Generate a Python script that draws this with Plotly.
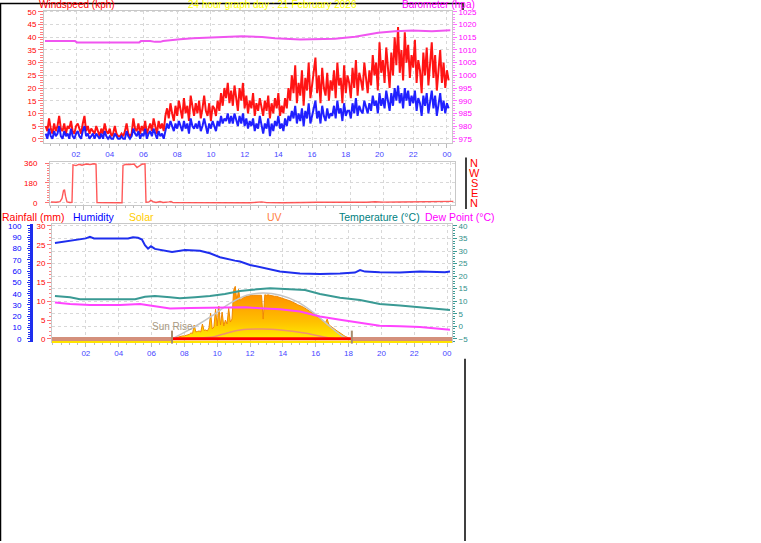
import plotly.graph_objects as go

W, H = 761, 543

# ---------------- data ----------------
hour_tickvals = [2, 4, 6, 8, 10, 12, 14, 16, 18, 20, 22, 24]
hour_ticktext = ["02", "04", "06", "08", "10", "12", "14", "16", "18", "20", "22", "00"]

# wind samples every 0.1 h starting at 0.2 h
wind_start_h = 0.2
wind_step_h = 0.1
wind_gust_kph = [
    5, 3, 8, 4, 2, 6, 3, 5, 9, 4,
    3, 6, 2, 5, 4, 7, 3, 2, 5, 6,
    4, 2, 6, 9, 3, 5, 2, 4, 3, 2,
    5, 3, 1, 4, 2, 6, 3, 2, 4, 1,
    2, 5, 2, 1, 1, 2, 1, 3, 6, 2,
    1, 2, 8, 4, 3, 6, 2, 5, 3, 7,
    2, 4, 6, 3, 8, 5, 2, 7, 4, 6,
    3, 9, 12, 8, 14, 10, 7, 13, 9, 15,
    11, 8, 16, 10, 13, 7, 17, 12, 9, 14,
    10, 15, 8, 12, 17, 11, 9, 14, 7, 13,
    12, 9, 15, 11, 18, 13, 20, 16, 22, 14,
    19, 13, 21, 16, 11, 20, 15, 22, 12, 17,
    10, 15, 12, 18, 9, 14, 11, 16, 13, 9,
    15, 11, 17, 8, 14, 10, 16, 12, 18, 9,
    13, 10, 16, 12, 20, 15, 25, 18, 29, 14,
    22, 17, 27, 13, 24, 19, 30, 16, 21, 26,
    32, 18, 25, 14, 28, 20, 17, 26, 15, 23,
    19, 27, 16, 30, 21, 24, 14, 29, 18, 25,
    22, 16, 28, 20, 31, 17, 26, 23, 19, 30,
    24, 18, 27, 21, 33, 25, 30, 19, 38, 26,
    31, 22, 36, 27, 20, 34, 25, 40, 29, 44,
    26, 35, 23, 42, 30, 37, 24, 33, 28, 39,
    22, 31, 27, 18, 34, 25, 36, 21, 29, 38,
    24, 33, 19, 28, 35, 22, 30, 20, 27, 23,
]
wind_avg_kph = [
    2, 0, 4, 1, 0, 3, 1, 2, 5, 1,
    0, 3, 1, 2, 0, 4, 1, 0, 2, 3,
    1, 0, 3, 5, 1, 2, 0, 1, 2, 0,
    2, 1, 0, 2, 0, 3, 1, 0, 1, 0,
    0, 2, 1, 0, 0, 1, 0, 0, 3, 1,
    0, 1, 4, 2, 1, 3, 0, 2, 1, 4,
    0, 2, 3, 1, 4, 2, 0, 3, 1, 2,
    0, 3, 6, 4, 7, 5, 3, 6, 4, 7,
    5, 3, 7, 4, 6, 2, 8, 5, 4, 6,
    4, 7, 3, 5, 8, 5, 2, 6, 4, 7,
    5, 3, 7, 5, 9, 6, 8, 7, 10, 6,
    9, 6, 10, 7, 5, 9, 6, 10, 5, 8,
    4, 7, 5, 8, 3, 6, 4, 9, 5, 2,
    6, 4, 8, 1, 6, 3, 7, 5, 9, 4,
    6, 3, 8, 5, 9, 7, 11, 8, 13, 6,
    10, 7, 12, 5, 11, 8, 14, 6, 9, 12,
    15, 8, 11, 6, 13, 9, 7, 12, 8, 10,
    9, 13, 8, 15, 10, 12, 7, 14, 9, 11,
    11, 8, 14, 10, 16, 9, 13, 11, 10, 15,
    12, 10, 14, 11, 17, 13, 15, 10, 18, 13,
    16, 12, 19, 14, 11, 18, 13, 20, 15, 21,
    14, 18, 12, 20, 15, 19, 13, 17, 14, 19,
    11, 16, 14, 9, 17, 13, 18, 10, 15, 19,
    12, 17, 9, 14, 18, 11, 15, 10, 14, 12,
]

baro_t = [0.16, 1.94, 2.06, 5.75, 5.85, 6.4, 6.68, 7.0, 7.16, 7.58, 8.17, 8.94, 9.95,
          10.95, 11.84, 13.03, 13.8, 15.29, 17.36, 18.55, 19.32, 19.92, 20.92, 21.93, 23.11, 24.2]
baro_hpa = [1013.5, 1013.5, 1013.0, 1013.0, 1013.5, 1013.5, 1013.2, 1013.2, 1013.5, 1013.9,
            1014.2, 1014.6, 1014.8, 1015.2, 1015.4, 1015.1, 1014.6, 1014.1, 1014.4, 1015.2,
            1016.1, 1016.8, 1017.4, 1017.7, 1017.4, 1017.8]

dir_t = [0.06, 0.36, 0.6, 0.72, 0.81, 0.87, 0.93, 1.02, 1.2, 1.32, 1.38, 1.56, 1.74, 1.92,
         2.16, 2.4, 2.64, 2.76, 2.82, 3.3, 3.9, 4.32, 4.38, 4.56, 4.8, 5.04, 5.22, 5.34,
         5.52, 5.7, 5.76, 5.94, 6.06, 6.18, 6.36, 6.6, 6.78, 7.14, 7.26, 7.38, 8.0, 9.0,
         10.0, 11.0, 12.0, 12.7, 13.0, 14.0, 14.8, 15.2, 16.0, 17.0, 18.0, 19.0, 19.5,
         20.0, 21.0, 22.0, 23.0, 24.0, 24.2]
dir_deg = [8, 5, 10, 40, 110, 120, 60, 8, 3, 5, 345, 338, 350, 342,
           352, 348, 355, 352, 2, 0, 0, 0, 340, 350, 348, 352, 320, 335,
           350, 355, 5, 8, 22, 10, 3, 12, 3, 8, 12, 2, 2, 4,
           1, 3, 0, 8, 2, 1, 6, 3, 5, 4, 6, 5, 9,
           6, 8, 9, 10, 14, 13]

hum_t = [0.12, 0.6, 1.04, 1.64, 2.0, 2.25, 2.5, 2.86, 3.5, 4.08, 4.57, 4.87, 5.18, 5.42,
         5.6, 5.79, 5.97, 6.21, 6.82, 7.25, 8.04, 8.95, 9.56, 10.17, 11.08, 11.39, 12.0,
         12.91, 13.82, 15.04, 16.26, 17.48, 18.39, 18.7, 19.0, 19.9, 21.13, 22.35, 23.87, 24.18]
hum_pct = [85, 86, 87, 88.5, 89, 90.5, 89, 89, 88.8, 88.5, 89, 90, 89.5, 88,
           83, 80, 82, 79.7, 78, 77, 78.8, 78, 75.8, 72.3, 69.3, 68.5, 65.5,
           62.6, 59.6, 58, 57.5, 57.9, 58.7, 61, 59.6, 59, 58.7, 59.6, 59, 59.6]

temp_t = [0.12, 1.04, 1.64, 2.86, 4.08, 5.0, 5.6, 6.21, 7.13, 7.73, 8.65, 9.56, 10.47,
          11.39, 12.0, 13.22, 14.43, 15.35, 16.26, 17.48, 18.7, 19.9, 21.13, 22.35, 24.18]
temp_c = [12.1, 11.6, 10.8, 10.8, 11.0, 10.8, 11.8, 12.1, 11.6, 11.2, 11.6, 12.1, 12.9,
          14.1, 14.5, 15.2, 14.8, 14.5, 12.9, 11.4, 10.5, 8.9, 8.3, 7.6, 6.5]

dew_t = [0.12, 1.04, 2.25, 4.08, 5.3, 6.21, 7.13, 8.35, 10.17, 11.69, 12.6, 13.82, 15.04,
         16.26, 17.48, 18.7, 19.9, 21.13, 22.35, 24.18]
dew_c = [9.5, 8.9, 8.5, 8.5, 8.9, 8.1, 7.1, 7.3, 7.6, 7.6, 7.2, 6.8, 5.9,
         3.9, 2.6, 1.5, 0.2, 0.0, -0.3, -1.4]

# solar samples every 0.1 h starting at 7.2 h
solar_start_h = 7.2
solar_step_h = 0.1
solar_wm2 = [
    0, 5, 10, 15, 20, 20, 25, 30, 30, 35,
    40, 45, 60, 55, 140, 70, 75, 80, 70, 150,
    85, 90, 80, 110, 260, 100, 120, 300, 130, 330,
    140, 270, 130, 190, 150, 310, 170, 200, 490, 530,
    380, 500, 390, 410, 420, 425, 430, 435, 435, 440,
    440, 440, 445, 440, 445, 440, 200, 445, 440, 445,
    440, 435, 435, 430, 430, 425, 420, 415, 410, 405,
    400, 395, 390, 380, 370, 365, 355, 345, 340, 330,
    325, 315, 305, 295, 285, 270, 260, 250, 235, 225,
    215, 200, 190, 175, 165, 200, 145, 130, 115, 100,
    90, 80, 70, 55, 45, 35, 25, 15, 10, 5,
    0,
]
solar_max_t = [7.25, 8.0, 8.8, 9.75, 10.8, 11.8, 12.8, 13.85, 14.9, 15.9, 16.9, 17.7, 18.05]
solar_max_wm2 = [0, 65, 140, 240, 360, 440, 463, 440, 373, 260, 120, 20, 0]

uv_t = [7.3, 8.5, 9.75, 10.6, 11.4, 12.8, 13.85, 15.3, 16.5, 17.3]
uv_index = [0, 0.15, 0.4, 1.2, 1.8, 2.0, 1.8, 1.2, 0.4, 0]

rain_t = [0.0, 24.3]
rain_mm = [0, 0]

sunrise_h = 7.25
sunset_h = 18.2

compass_labels = ["N", "W", "S", "E", "N"]
compass_deg = [360, 270, 180, 90, 0]

# ---------------- helpers ----------------
FONT = "Liberation Sans, Arial, sans-serif"
FRAME = "#C8C8C8"
GRID = "#D8D8D8"
XLAB = "#4646FF"


def px(x):
    return x / W


def py(y):
    return 1 - y / H


wind_t = [wind_start_h + i * wind_step_h for i in range(len(wind_gust_kph))]
solar_t = [solar_start_h + i * solar_step_h for i in range(len(solar_wm2))]

fig = go.Figure()

# top panel
fig.add_trace(go.Scatter(x=wind_t, y=wind_gust_kph, mode="lines", xaxis="x", yaxis="y",
                         line=dict(color="rgba(255,0,0,0.92)", width=2)))
fig.add_trace(go.Scatter(x=wind_t, y=wind_avg_kph, mode="lines", xaxis="x", yaxis="y",
                         line=dict(color="rgba(20,20,255,0.95)", width=2)))
fig.add_trace(go.Scatter(x=baro_t, y=baro_hpa, mode="lines", xaxis="x", yaxis="y2",
                         line=dict(color="#F055F0", width=2)))
# middle panel
fig.add_trace(go.Scatter(x=dir_t, y=dir_deg, mode="lines", xaxis="x2", yaxis="y3",
                         line=dict(color="rgba(255,60,60,0.85)", width=1.4)))
# bottom panel
fig.add_trace(go.Scatter(x=solar_t, y=solar_wm2, mode="lines", xaxis="x3", yaxis="y4",
                         fill="tozeroy",
                         fillgradient=dict(type="vertical", start=0, stop=460,
                                           colorscale=[[0, "#FFF000"], [0.4, "#FFC000"], [1, "#FF9000"]]),
                         line=dict(color="#F08800", width=1)))
fig.add_trace(go.Scatter(x=solar_max_t, y=solar_max_wm2, mode="lines", xaxis="x3", yaxis="y4",
                         line=dict(color="#C4C4C4", width=1.5, shape="spline")))
fig.add_trace(go.Scatter(x=uv_t, y=uv_index, mode="lines", xaxis="x3", yaxis="y5",
                         line=dict(color="#F09070", width=1.5, shape="spline")))
fig.add_trace(go.Scatter(x=rain_t, y=rain_mm, mode="lines", xaxis="x3", yaxis="y6",
                         line=dict(color="#FF0000", width=3)))
fig.add_trace(go.Scatter(x=hum_t, y=hum_pct, mode="lines", xaxis="x3", yaxis="y7",
                         line=dict(color="#1E2EEE", width=2)))
fig.add_trace(go.Scatter(x=temp_t, y=temp_c, mode="lines", xaxis="x3", yaxis="y8",
                         line=dict(color="#3A9A94", width=2)))
fig.add_trace(go.Scatter(x=dew_t, y=dew_c, mode="lines", xaxis="x3", yaxis="y8",
                         line=dict(color="#FF44FF", width=2)))


def xaxis(domain, rng, anchor, labels=True):
    return dict(domain=domain, range=rng, anchor=anchor,
                tickmode="array", tickvals=hour_tickvals, ticktext=hour_ticktext,
                showticklabels=labels, tickfont=dict(size=8, color=XLAB, family=FONT),
                ticks="outside", ticklen=4, tickcolor="#BBBBBB",
                minor=dict(ticks="outside", dtick=0.5, tick0=0, ticklen=2, tickcolor="#BBBBBB"),
                showline=True, linecolor=FRAME, mirror=True, zeroline=False,
                showgrid=True, gridcolor=GRID, griddash="dot", fixedrange=True)


def yaxis(color, tickcolor, **kw):
    d = dict(tickfont=dict(size=8, color=color, family=FONT), ticks="outside", ticklen=4,
             tickcolor=tickcolor, zeroline=False, fixedrange=True, showgrid=False)
    d.update(kw)
    return d


TOP = [py(141), py(8)]
MID = [py(204), py(160)]
BOT = [py(342), py(223)]

fig.update_layout(
    width=W, height=H, margin=dict(l=0, r=0, t=0, b=0),
    paper_bgcolor="white", plot_bgcolor="white", showlegend=False,
    font=dict(family=FONT),
    xaxis=xaxis([px(44), px(452)], [0.1, 24.3], "y"),
    xaxis2=xaxis([px(50), px(455)], [0, 24.3], "y3", labels=False),
    xaxis3=xaxis([px(52), px(452)], [-0.06, 24.3], "y4"),
    yaxis=yaxis("#FF0000", "#FF7070", domain=TOP, range=[-1.56, 50.4], anchor="x",
                tickmode="linear", tick0=0, dtick=5, ticklen=5,
                minor=dict(ticks="outside", dtick=1, tick0=0, ticklen=3, tickcolor="#FF8080"),
                showline=True, linecolor=FRAME, mirror=True,
                showgrid=True, gridcolor=GRID, griddash="dot"),
    yaxis2=yaxis("#FF00FF", "#FF70FF", overlaying="y", side="right", anchor="x",
                 range=[973.44, 1025.4], tickmode="linear", tick0=975, dtick=5,
                 minor=dict(ticks="outside", dtick=1, tick0=975, ticklen=2, tickcolor="#FF80FF")),
    yaxis3=yaxis("#FF0000", "#FF7070", domain=MID, range=[-21, 375], anchor="x2",
                 tickmode="array", tickvals=[0, 180, 360], ticklabelstandoff=6,
                 minor=dict(ticks="outside", dtick=22.5, tick0=0, ticklen=2, tickcolor="#FF8080"),
                 showline=True, linecolor=FRAME, mirror=True,
                 showgrid=True, gridcolor=GRID, griddash="dot"),
    yaxis4=dict(domain=BOT, range=[-30, 1160], anchor="x3", visible=False, fixedrange=True),
    yaxis5=dict(overlaying="y4", range=[-0.6, 23.2], anchor="x3", visible=False, fixedrange=True),
    yaxis6=yaxis("#FF0000", "#FF7070", overlaying="y4", side="left", anchor="x3",
                 range=[-0.8, 30.53], tickmode="linear", tick0=0, dtick=5,
                 minor=dict(ticks="outside", dtick=1, tick0=0, ticklen=2, tickcolor="#FF8080"),
                 showline=True, linecolor=FRAME, mirror=True),
    yaxis7=yaxis("#0000FF", "#2233EE", overlaying="y4", side="left", anchor="free",
                 position=px(31), range=[-2.65, 101.8], tickmode="linear", tick0=0, dtick=10,
                 ticklen=3, ticklabelstandoff=4,
                 minor=dict(ticks="outside", dtick=2, tick0=0, ticklen=2, tickcolor="#2233EE"),
                 showline=True, linecolor="#1E2EEE", linewidth=3),
    yaxis8=yaxis("#2F8F8A", "#3A9A94", overlaying="y4", side="right", anchor="x3",
                 range=[-6.2, 40.8], tickmode="linear", tick0=0, dtick=5,
                 minor=dict(ticks="outside", dtick=1, tick0=0, ticklen=2, tickcolor="#3A9A94"),
                 showgrid=True, gridcolor=GRID, griddash="dot"),
)

shapes = [
    # outer black frame
    dict(type="line", xref="paper", yref="paper", x0=px(0.5), x1=px(0.5), y0=0, y1=1,
         line=dict(color="black", width=1.5)),
    dict(type="line", xref="paper", yref="paper", x0=0, x1=px(463), y0=py(0.5), y1=py(0.5),
         line=dict(color="black", width=1.5)),
    dict(type="line", xref="paper", yref="paper", x0=px(463), x1=px(463), y0=py(0), y1=py(7),
         line=dict(color="black", width=1.5)),
    dict(type="line", xref="paper", yref="paper", x0=px(466), x1=px(466), y0=py(156), y1=py(208),
         line=dict(color="black", width=1.5)),
    dict(type="line", xref="paper", yref="paper", x0=px(465), x1=px(465), y0=py(359), y1=0,
         line=dict(color="black", width=1.5)),
    # yellow base strip
    dict(type="rect", xref="x3 domain", yref="y4 domain", x0=0, x1=1, y0=-0.01, y1=0.01,
         fillcolor="#FFE400", line=dict(width=0)),
    # night bands
    dict(type="rect", xref="x3", yref="y4 domain", x0=-0.06, x1=sunrise_h, y0=0.008, y1=0.042,
         fillcolor="#D4907C", line=dict(width=0)),
    dict(type="rect", xref="x3", yref="y4 domain", x0=sunset_h, x1=24.3, y0=0.008, y1=0.042,
         fillcolor="#D4907C", line=dict(width=0)),
    # sunrise / sunset markers
    dict(type="line", xref="x3", yref="y4 domain", x0=sunrise_h, x1=sunrise_h, y0=-0.015, y1=0.095,
         line=dict(color="#A88C6C", width=2)),
    dict(type="line", xref="x3", yref="y4 domain", x0=sunset_h, x1=sunset_h, y0=-0.015, y1=0.095,
         line=dict(color="#A88C6C", width=2)),
]

annotations = [
    dict(text="Sun Rise", xref="x3", yref="y4 domain", x=sunrise_h, y=0.13, showarrow=False,
         font=dict(size=10, color="#A89880", family=FONT), xanchor="center", yanchor="middle"),
    dict(text="Windspeed (kph)", xref="paper", yref="paper", x=px(37), y=py(9.5), showarrow=False,
         font=dict(size=10, color="#FF0000", family=FONT), xanchor="left", yanchor="bottom"),
    dict(text="24 hour graph day : 21 February 2026", xref="paper", yref="paper", x=px(186), y=py(9.5),
         showarrow=False, font=dict(size=10, color="#FFFF00", family=FONT), xanchor="left", yanchor="bottom"),
    dict(text="Barometer (hpa)", xref="paper", yref="paper", x=px(400), y=py(9.5), showarrow=False,
         font=dict(size=10, color="#FF00FF", family=FONT), xanchor="left", yanchor="bottom"),
]
legend_row = [("Rainfall (mm)", 0, "#FF0000"), ("Humidity", 71, "#0000FF"), ("Solar", 127, "#FFCC00"),
              ("UV", 265, "#FF8040"), ("Temperature (°C)", 337, "#008080"), ("Dew Point (°C)", 423, "#FF00FF")]
for txt, xp, col in legend_row:
    annotations.append(dict(text=txt, xref="paper", yref="paper", x=px(xp), y=py(215.5), showarrow=False,
                            font=dict(size=10.5, color=col, family=FONT), xanchor="left", yanchor="middle"))
for lab, deg in zip(compass_labels, compass_deg):
    annotations.append(dict(text=lab, xref="paper", yref="y3", x=px(474), y=deg, showarrow=False,
                            font=dict(size=11, color="#FF0000", family=FONT), xanchor="center", yanchor="middle"))

fig.update_layout(shapes=shapes, annotations=annotations)

fig.write_html("out.html", config={"displayModeBar": False},
               post_script="document.body.style.margin='0';document.body.style.padding='0';"
                           "document.body.style.overflow='hidden';")
